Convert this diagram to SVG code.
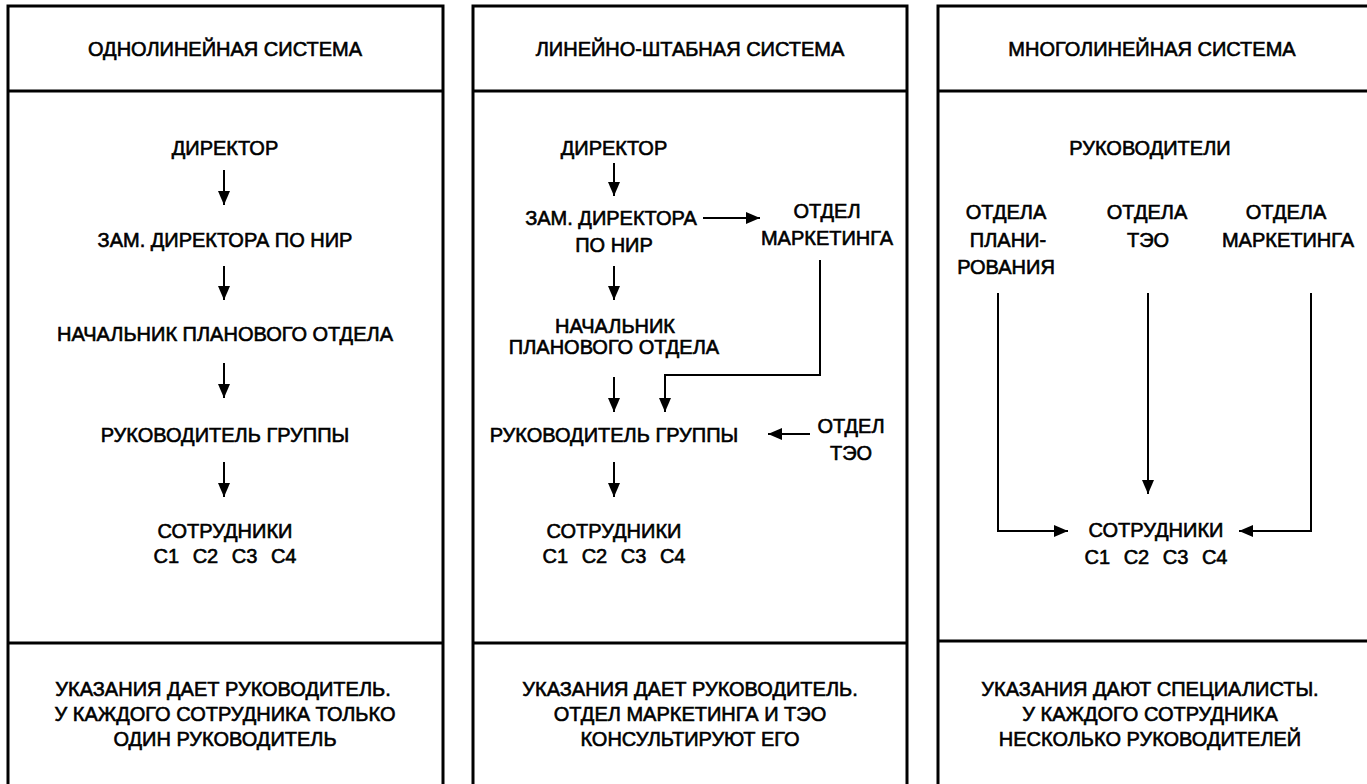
<svg xmlns="http://www.w3.org/2000/svg" width="1367" height="784" viewBox="0 0 1367 784">
<style>
text{font-family:"Liberation Sans",Arial,sans-serif;font-size:20px;fill:#000;text-anchor:middle;stroke:#000;stroke-width:0.6}
.frame{fill:none;stroke:#000;stroke-width:3}
.con{fill:none;stroke:#000;stroke-width:2}
.num{word-spacing:8px}
</style>
<defs>
<marker id="ah" markerUnits="userSpaceOnUse" markerWidth="14" markerHeight="12" refX="14" refY="6" orient="auto">
<path d="M0,0 L14,6 L0,12 z" fill="#000"/>
</marker>
</defs>
<rect width="1367" height="784" fill="#fff"/>
<g id="frames">
<path class="frame" d="M8,784 V6 H443 V784 M8,91 H443 M8,643 H443"/>
<path class="frame" d="M473,784 V6 H907 V784 M473,91 H907 M473,643 H907"/>
<path class="frame" d="M938,784 V6 H1367 M938,91 H1367 M938,641 H1367"/>
</g>
<g id="headers">
<text x="225" y="56">ОДНОЛИНЕЙНАЯ СИСТЕМА</text>
<text x="690" y="56">ЛИНЕЙНО-ШТАБНАЯ СИСТЕМА</text>
<text x="1152" y="56">МНОГОЛИНЕЙНАЯ СИСТЕМА</text>
</g>
<g id="p1-director"><text x="225" y="155">ДИРЕКТОР</text></g>
<g id="p1-deputy"><text x="225" y="247">ЗАМ. ДИРЕКТОРА ПО НИР</text></g>
<g id="p1-head"><text x="225" y="341">НАЧАЛЬНИК ПЛАНОВОГО ОТДЕЛА</text></g>
<g id="p1-group"><text x="225" y="442">РУКОВОДИТЕЛЬ ГРУППЫ</text></g>
<g id="p1-staff"><text x="225" y="538">СОТРУДНИКИ</text><text class="num" x="225" y="563">С1 С2 С3 С4</text></g>
<g id="p2-director"><text x="614" y="155">ДИРЕКТОР</text></g>
<g id="p2-deputy"><text x="611" y="225">ЗАМ. ДИРЕКТОРА</text><text x="614" y="252">ПО НИР</text></g>
<g id="p2-marketing"><text x="827" y="218">ОТДЕЛ</text><text x="827" y="245">МАРКЕТИНГА</text></g>
<g id="p2-head"><text x="615" y="333">НАЧАЛЬНИК</text><text x="614" y="354">ПЛАНОВОГО ОТДЕЛА</text></g>
<g id="p2-group"><text x="614" y="442">РУКОВОДИТЕЛЬ ГРУППЫ</text></g>
<g id="p2-teo"><text x="851" y="433">ОТДЕЛ</text><text x="851" y="460">ТЭО</text></g>
<g id="p2-staff"><text x="614" y="538">СОТРУДНИКИ</text><text class="num" x="614" y="563">С1 С2 С3 С4</text></g>
<g id="p3-heads"><text x="1150" y="155">РУКОВОДИТЕЛИ</text></g>
<g id="p3-plan"><text x="1006" y="219">ОТДЕЛА</text><text x="1008" y="247">ПЛАНИ-</text><text x="1006" y="274">РОВАНИЯ</text></g>
<g id="p3-teo"><text x="1147" y="219">ОТДЕЛА</text><text x="1148" y="247">ТЭО</text></g>
<g id="p3-marketing"><text x="1286" y="219">ОТДЕЛА</text><text x="1288" y="247">МАРКЕТИНГА</text></g>
<g id="p3-staff"><text x="1156" y="537">СОТРУДНИКИ</text><text class="num" x="1156" y="564">С1 С2 С3 С4</text></g>
<g id="footers">
<text x="223" y="696">УКАЗАНИЯ ДАЕТ РУКОВОДИТЕЛЬ.</text>
<text x="225" y="721">У КАЖДОГО СОТРУДНИКА ТОЛЬКО</text>
<text x="225" y="746">ОДИН РУКОВОДИТЕЛЬ</text>
<text x="690" y="696">УКАЗАНИЯ ДАЕТ РУКОВОДИТЕЛЬ.</text>
<text x="690" y="721">ОТДЕЛ МАРКЕТИНГА И ТЭО</text>
<text x="690" y="746">КОНСУЛЬТИРУЮТ ЕГО</text>
<text x="1150" y="696">УКАЗАНИЯ ДАЮТ СПЕЦИАЛИСТЫ.</text>
<text x="1150" y="721">У КАЖДОГО СОТРУДНИКА</text>
<text x="1150" y="746">НЕСКОЛЬКО РУКОВОДИТЕЛЕЙ</text>
</g>
<g id="connectors">
<path class="con" marker-end="url(#ah)" d="M224,170 V205"/>
<path class="con" marker-end="url(#ah)" d="M224,266 V300"/>
<path class="con" marker-end="url(#ah)" d="M224,363 V398"/>
<path class="con" marker-end="url(#ah)" d="M224,462 V497"/>
<path class="con" marker-end="url(#ah)" d="M614,163 V196"/>
<path class="con" marker-end="url(#ah)" d="M614,266 V300"/>
<path class="con" marker-end="url(#ah)" d="M614,377 V412"/>
<path class="con" marker-end="url(#ah)" d="M614,462 V497"/>
<path class="con" marker-end="url(#ah)" d="M703,218 H760"/>
<path class="con" marker-end="url(#ah)" d="M820,260 V375 H665 V412"/>
<path class="con" marker-end="url(#ah)" d="M810,434 H768"/>
<path class="con" marker-end="url(#ah)" d="M998,293 V531 H1068"/>
<path class="con" marker-end="url(#ah)" d="M1148,293 V494"/>
<path class="con" marker-end="url(#ah)" d="M1311,293 V531 H1239"/>
</g>
</svg>
